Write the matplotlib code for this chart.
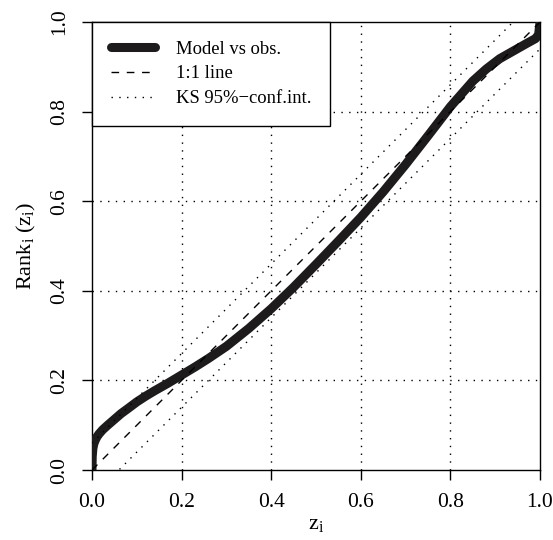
import numpy as np
import matplotlib
matplotlib.use("Agg")
import matplotlib.pyplot as plt

plt.rcParams['font.family'] = ['Liberation Serif', 'DejaVu Serif']
plt.rcParams['mathtext.fontset'] = 'custom'
plt.rcParams['mathtext.rm'] = 'Liberation Serif'
plt.rcParams['mathtext.it'] = 'Liberation Serif'

## model vs obs curve (z_i, rank)
z_model = [0.0, 0.0005, 0.002, 0.004, 0.007, 0.011, 0.016, 0.024, 0.035, 0.05,
           0.065, 0.08, 0.1, 0.12, 0.14, 0.17, 0.2, 0.23, 0.26, 0.3,
           0.35, 0.4, 0.45, 0.5, 0.55, 0.6, 0.65, 0.7, 0.75, 0.8,
           0.85, 0.88, 0.91, 0.94, 0.97, 0.99, 0.997, 1.0]
rank_model = [0.0, 0.03, 0.048, 0.058, 0.066, 0.074, 0.081, 0.09, 0.1, 0.113,
              0.126, 0.137, 0.152, 0.165, 0.177, 0.194, 0.212, 0.23, 0.249, 0.276,
              0.316, 0.36, 0.408, 0.459, 0.511, 0.564, 0.621, 0.682, 0.746, 0.811,
              0.868, 0.895, 0.918, 0.935, 0.952, 0.963, 0.972, 1.0]
ks_d = 0.06  # KS 95% band half width
ticks = [0.0, 0.2, 0.4, 0.6, 0.8, 1.0]
tick_labels = ["0.0", "0.2", "0.4", "0.6", "0.8", "1.0"]

W, H = 553, 540
fig = plt.figure(figsize=(W/100, H/100), dpi=100)
ax = fig.add_axes([92/W, (H-470)/H, (540-92)/W, (470-22)/H])

dot = (1, 4.6)
for g in ticks[1:-1]:
    ax.axvline(g, color='black', lw=1.0, dashes=dot, zorder=1)
    ax.axhline(g, color='black', lw=1.0, dashes=dot, zorder=1)

xx = np.array([0.0, 1.0])
ax.plot(z_model, rank_model, color='#1e1b1c', lw=6.5, solid_capstyle='round',
        solid_joinstyle='round', label='Model vs obs.', zorder=3)
ax.plot(xx, xx, color='black', lw=1.0, dashes=(5.5, 5.5), label='1:1 line', zorder=4)
ax.plot(xx, xx + ks_d, color='black', lw=1.0, dashes=dot,
        label='KS 95%\u2212conf.int.', zorder=4)
ax.plot(xx, xx - ks_d, color='black', lw=1.0, dashes=dot, zorder=4)

ax.set_xlim(0, 1)
ax.set_ylim(0, 1)
ax.set_xticks(ticks)
ax.set_xticklabels(tick_labels)
ax.set_yticks(ticks)
ax.set_yticklabels(tick_labels, rotation=90, va='center')
ax.tick_params(direction='out', length=7.5, width=1.0, labelsize=15.5, pad=9, colors='black')
for s in ax.spines.values():
    s.set_linewidth(1.0)

ax.set_xlabel(r'z$_{\mathrm{i}}$', fontsize=16, labelpad=2)
ax.set_ylabel(r'Rank$_{\mathrm{i}}$ (z$_{\mathrm{i}}$)', fontsize=16, labelpad=9)

leg = ax.legend(loc='upper left', bbox_to_anchor=(0, 1), borderaxespad=0,
                fancybox=False, framealpha=1, edgecolor='black', fontsize=13.4,
                handlelength=2.4, handletextpad=1.1, labelspacing=0.42,
                borderpad=1.0)
leg.get_frame().set_linewidth(1.0)
leg.set_zorder(10)

fig.savefig('out.png', dpi=100)
